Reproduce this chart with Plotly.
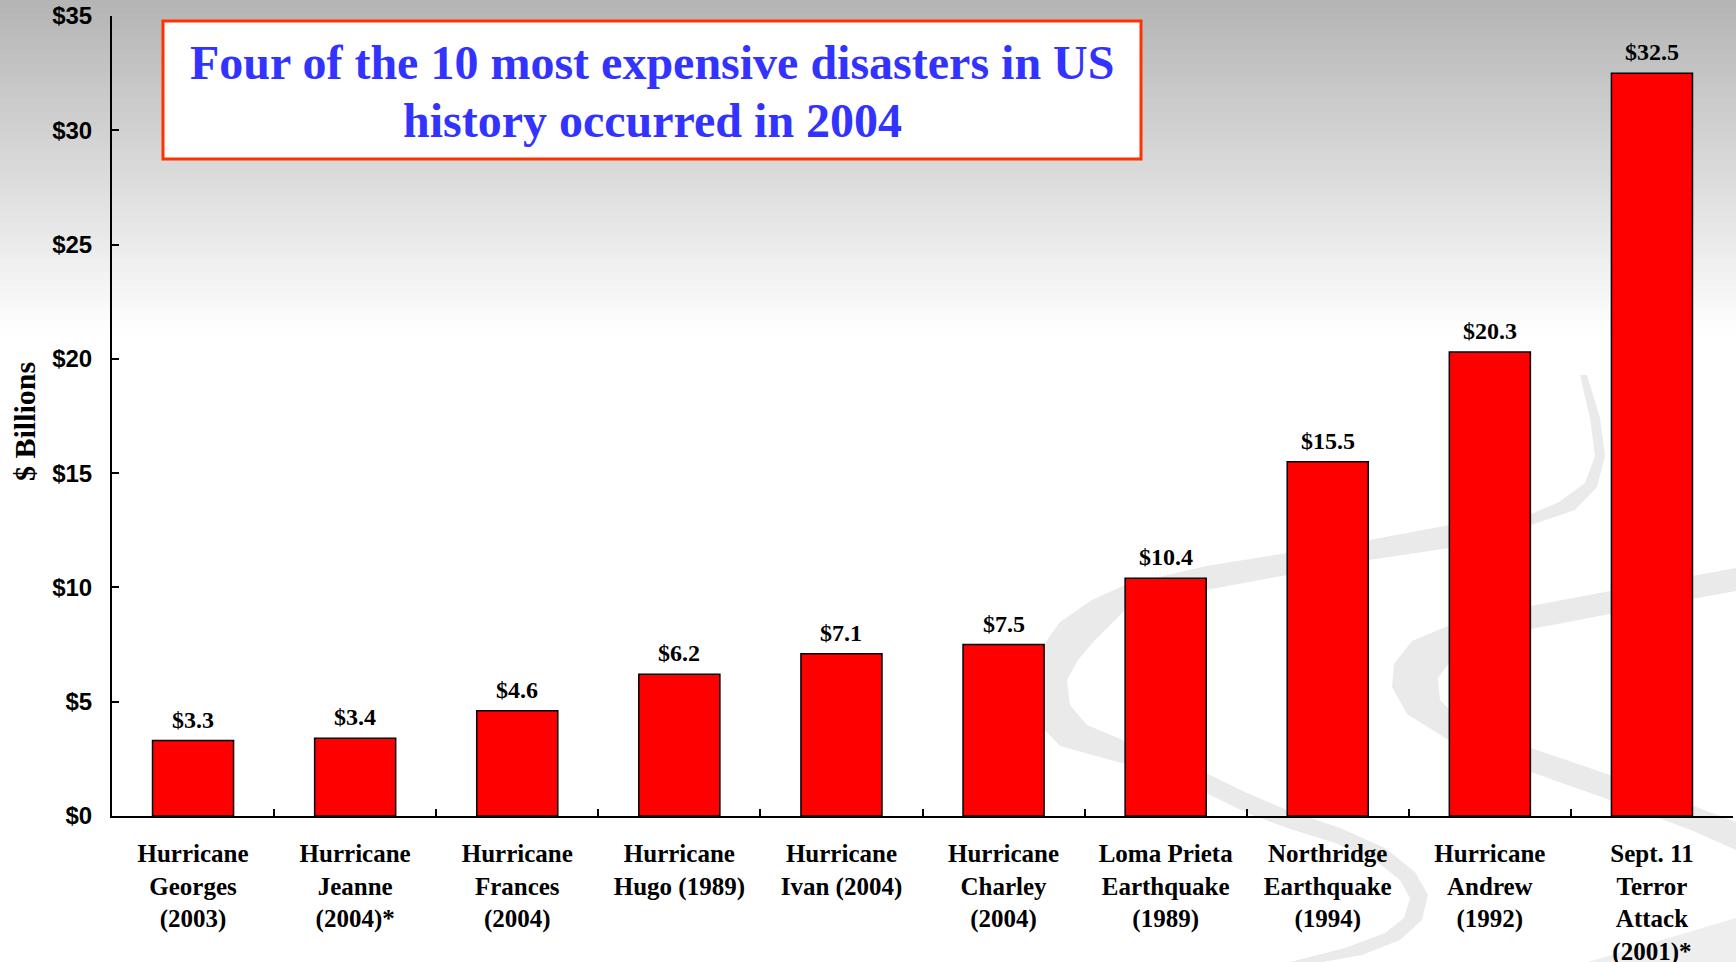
import plotly.graph_objects as go

# ---------------- data ----------------
categories = [
    "Hurricane<br>Georges<br>(2003)",
    "Hurricane<br>Jeanne<br>(2004)*",
    "Hurricane<br>Frances<br>(2004)",
    "Hurricane<br>Hugo (1989)",
    "Hurricane<br>Ivan (2004)",
    "Hurricane<br>Charley<br>(2004)",
    "Loma Prieta<br>Earthquake<br>(1989)",
    "Northridge<br>Earthquake<br>(1994)",
    "Hurricane<br>Andrew<br>(1992)",
    "Sept. 11<br>Terror<br>Attack<br>(2001)*",
]
costs_billions = [3.3, 3.4, 4.6, 6.2, 7.1, 7.5, 10.4, 15.5, 20.3, 32.5]
y_tick_values = [0, 5, 10, 15, 20, 25, 30, 35]
y_tick_labels = ["$0", "$5", "$10", "$15", "$20", "$25", "$30", "$35"]
title_lines = ["Four of the 10 most expensive disasters in US",
               "history occurred in 2004"]
y_title = "$ Billions"

# ---------------- layout geometry (pixels) ----------------
W, H = 1736, 962
ML, MR, MT, MB = 112, 3, 16, 146
PW, PH = W - ML - MR, H - MT - MB


def px(x):
    return (x - ML) / PW


def py(y):
    return (H - MB - y) / PH


fig = go.Figure()
fig.add_trace(go.Bar(
    x=categories,
    y=costs_billions,
    width=0.5,
    marker=dict(color="#ff0000", line=dict(color="black", width=1.5)),
    cliponaxis=False,
    hoverinfo="x+y",
))

shapes = []
# background gradient (grey at top fading to white)
n_strips = 48
grad_h = 335
for i in range(n_strips):
    y0 = grad_h * i / n_strips
    y1 = grad_h * (i + 1) / n_strips + 0.6
    g = int(round(180 + (255 - 180) * (i + 0.5) / n_strips))
    shapes.append(dict(type="rect", xref="paper", yref="paper",
                       x0=px(-2), x1=px(W + 2), y0=py(y1),
                       y1=py(y0 - (2 if i == 0 else 0)),
                       fillcolor=f"rgb({g},{g},{g})", line=dict(width=0),
                       layer="below"))


def path_from(points):
    return "M " + " L ".join(f"{px(a):.5f},{py(b):.5f}" for a, b in points) + " Z"


# decorative swoosh in the background
swoosh_a = [
    (1580, 375), (1590, 418), (1595, 456), (1585, 483), (1559, 502), (1531, 514),
    (1450, 525), (1369, 540), (1287, 553), (1206, 566), (1125, 585), (1092, 600),
    (1060, 622), (1040, 650), (1030, 690), (1040, 725), (1060, 746), (1125, 764),
    (1206, 793), (1247, 813), (1287, 828), (1335, 843), (1375, 860), (1400, 880),
    (1410, 898), (1404, 918), (1385, 933), (1345, 948), (1290, 962),
    (1322, 962), (1362, 955), (1400, 940), (1422, 920), (1428, 895), (1415, 872),
    (1385, 848), (1340, 828), (1287, 810), (1247, 793), (1206, 773), (1125, 741),
    (1087, 725), (1070, 705), (1067, 680), (1078, 660), (1095, 640), (1125, 610),
    (1206, 590), (1287, 575), (1369, 560), (1450, 548), (1531, 525), (1575, 510),
    (1597, 487), (1605, 456), (1600, 418), (1587, 375),
]
swoosh_b = [
    (1736, 568), (1610, 591), (1531, 606), (1450, 625), (1412, 641), (1394, 664),
    (1392, 687), (1407, 714), (1450, 741), (1531, 772), (1610, 800), (1691, 830),
    (1736, 850),
    (1736, 822), (1691, 805), (1610, 775), (1531, 748), (1462, 722), (1440, 700),
    (1438, 678), (1455, 655), (1531, 629), (1610, 614), (1736, 591),
]
swoosh_c = [(1736, 918), (1736, 962), (1588, 962)]
for pts, col in ((swoosh_a, "rgb(234,234,234)"), (swoosh_b, "rgb(234,234,234)"),
                 (swoosh_c, "rgb(238,238,238)")):
    shapes.append(dict(type="path", xref="paper", yref="paper",
                       path=path_from(pts), fillcolor=col,
                       line=dict(width=0), layer="below"))

# title box
shapes.append(dict(type="rect", xref="paper", yref="paper",
                   x0=px(163), x1=px(1141), y0=py(159), y1=py(21),
                   fillcolor="white", line=dict(color="#ff3300", width=3),
                   layer="above"))

annotations = []
# value labels above bars
for cat, val in zip(categories, costs_billions):
    annotations.append(dict(x=cat, y=val, xref="x", yref="y",
                            text=f"${val:.1f}", showarrow=False,
                            xanchor="center", yanchor="bottom", yshift=6,
                            font=dict(family="Liberation Serif", size=24,
                                      color="black", weight="bold")))
for line, yc in zip(title_lines, (62, 120)):
    annotations.append(dict(text=line, xref="paper", yref="paper",
                            x=px(652), y=py(yc), xanchor="center", yanchor="middle",
                            showarrow=False,
                            font=dict(family="Liberation Serif", size=48,
                                      color="#3333ff", weight="bold")))
annotations.append(dict(text=y_title, xref="paper", yref="paper",
                        x=px(24), y=py(422), xanchor="center", yanchor="middle",
                        textangle=-90, showarrow=False,
                        font=dict(family="Liberation Serif", size=30,
                                  color="black", weight="bold")))

fig.update_layout(
    width=W, height=H, autosize=False,
    margin=dict(l=ML, r=MR, t=MT, b=MB),
    paper_bgcolor="white",
    plot_bgcolor="rgba(0,0,0,0)",
    showlegend=False,
    shapes=shapes,
    annotations=annotations,
    bargap=0.5,
)
fig.update_xaxes(
    range=[-0.5, 9.5],
    automargin=False,
    showline=True, linecolor="black", linewidth=2,
    ticks="inside", ticklen=7, tickwidth=1.5, tickcolor="black",
    tickson="boundaries",
    showgrid=False, zeroline=False,
    ticklabelstandoff=14,
    tickfont=dict(family="Liberation Serif", size=25, color="black", weight="bold"),
)
fig.update_yaxes(
    range=[0, 35],
    automargin=False,
    tickvals=y_tick_values, ticktext=y_tick_labels,
    showline=True, linecolor="black", linewidth=2,
    ticks="inside", ticklen=7, tickwidth=1.5, tickcolor="black",
    showgrid=False, zeroline=False,
    ticklabelstandoff=13,
    tickfont=dict(family="Liberation Sans", size=24, color="black", weight="bold"),
)

fig.write_html("out.html",
               config={"displayModeBar": False},
               post_script="document.body.style.margin='0px';document.body.style.overflow='hidden';")
